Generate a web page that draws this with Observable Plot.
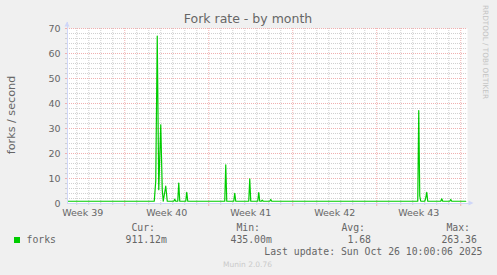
<!DOCTYPE html>
<html><head><meta charset="utf-8">
<script src="https://cdn.jsdelivr.net/npm/d3@7"></script>
<script src="https://cdn.jsdelivr.net/npm/@observablehq/plot@0.6"></script>
<style>
html,body{margin:0;padding:0;background:#f0f0f0;}
</style></head><body><div id="chart"></div>
<script>
// ---- data ----
const title = "Fork rate - by month";
const yLabel = "forks / second";
const seriesName = "forks";
const times = [
  "2025-09-23T05:30","2025-09-30T11:00","2025-09-30T14:00","2025-09-30T17:00","2025-09-30T20:00",
  "2025-10-01T00:00","2025-10-01T03:00","2025-10-01T05:00","2025-10-01T10:00","2025-10-01T13:00",
  "2025-10-02T02:00","2025-10-02T04:00","2025-10-02T06:00","2025-10-02T10:00","2025-10-02T12:00","2025-10-02T14:00",
  "2025-10-03T02:00","2025-10-03T04:00","2025-10-03T06:00",
  "2025-10-06T08:00","2025-10-06T10:00","2025-10-06T12:00",
  "2025-10-07T02:00","2025-10-07T04:00","2025-10-07T06:00",
  "2025-10-08T08:00","2025-10-08T10:00","2025-10-08T12:00",
  "2025-10-09T02:00","2025-10-09T04:00","2025-10-09T06:00","2025-10-09T09:00","2025-10-09T11:00","2025-10-09T13:00",
  "2025-10-10T02:00","2025-10-10T04:00","2025-10-10T06:00",
  "2025-10-22T10:00","2025-10-22T12:00","2025-10-22T14:00","2025-10-22T16:00",
  "2025-10-23T00:00","2025-10-23T02:00","2025-10-23T04:00","2025-10-23T06:00",
  "2025-10-24T08:00","2025-10-24T10:00","2025-10-24T12:00",
  "2025-10-25T02:00","2025-10-25T04:00","2025-10-25T06:00",
  "2025-10-26T10:00"
];
const values = [
  0.9, 0.9, 9, 67, 5.5,
  31.5, 5.5, 0.9, 7, 0.9,
  0.9, 1.7, 0.9, 0.9, 8.2, 0.9,
  0.9, 4.5, 0.9,
  0.9, 15.5, 0.9,
  0.9, 4.1, 0.9,
  0.9, 9.9, 0.9,
  0.9, 4.4, 0.9, 0.9, 1.3, 0.9,
  0.9, 1.6, 0.9,
  0.9, 37.2, 3, 0.9,
  0.9, 2.2, 4.5, 0.9,
  0.9, 1.9, 0.9,
  0.9, 1.6, 0.9,
  0.9
];
const yTicks = [0, 10, 20, 30, 40, 50, 60, 70];
const weekLabels = ["Week 39", "Week 40", "Week 41", "Week 42", "Week 43"];
const weekMids = ["2025-09-24T12:00", "2025-10-01T12:00", "2025-10-08T12:00", "2025-10-15T12:00", "2025-10-22T12:00"];
const legendHeads = ["Cur:", "Min:", "Avg:", "Max:"];
const legendValues = ["911.12m", "435.00m", "1.68", "263.36"];
const lastUpdate = "Last update: Sun Oct 26 10:00:06 2025";
const footer = "Munin 2.0.76";
const watermark = "RRDTOOL / TOBI OETIKER";
const xStart = "2025-09-23T05:30", xEnd = "2025-10-26T13:30";

// ---- chart ----
const parse = s => new Date(s);
const data = times.map((t, i) => ({t: parse(t), v: values[i]}));
const x0 = parse(xStart), x1 = parse(xEnd);
const days = d3.timeDay.range(d3.timeDay.ceil(x0), x1);
const weeks = d3.timeWeek.range(d3.timeWeek.ceil(x0), x1);
const weekSet = new Set(weeks.map(d => +d));
const minorDays = days.filter(d => !weekSet.has(+d));
const minorY = d3.range(2, 70, 2).filter(v => v % 10 !== 0);
const majorY = d3.range(10, 71, 10);
const labelMap = new Map(weekMids.map((s, i) => [+parse(s), weekLabels[i]]));
const hour = 3600e3;

const GRID = "#d0d0d0", MGRID = "#f0b0b0", AXIS = "#cfd6f8", TXT = "#666";

const chart = Plot.plot({
  width: 497, height: 275,
  marginLeft: 67, marginRight: 30, marginTop: 28, marginBottom: 72,
  style: {background: "#f0f0f0", fontFamily: "'DejaVu Sans', sans-serif", fontSize: "9.5px", color: TXT},
  x: {type: "time", domain: [x0, x1], label: null},
  y: {domain: [0, 70], label: null},
  marks: [
    Plot.frame({fill: "white", stroke: "none"}),
    Plot.ruleX(minorDays, {stroke: GRID, strokeDasharray: "1,1"}),
    Plot.ruleY(minorY, {stroke: GRID, strokeDasharray: "1,1"}),
    Plot.ruleX(weeks, {stroke: MGRID, strokeDasharray: "1,1"}),
    Plot.ruleY(majorY, {stroke: MGRID, strokeDasharray: "1,1"}),
    // small ticks outside the axes
    Plot.ruleX(minorDays, {y1: 0, y2: -0.8, stroke: GRID}),
    Plot.ruleX(weeks, {y1: 0, y2: -1.2, stroke: MGRID}),
    Plot.ruleY(minorY, {x1: x0, x2: new Date(+x0 - 4 * hour), stroke: GRID}),
    Plot.ruleY(majorY, {x1: x0, x2: new Date(+x0 - 4 * hour), stroke: MGRID}),
    Plot.axisX({ticks: weekMids.map(parse), tickFormat: d => labelMap.get(+d), tickSize: 0, tickPadding: 6, label: null, fill: TXT}),
    Plot.axisY({ticks: yTicks, tickSize: 0, tickPadding: 7, label: null, fill: TXT}),
    Plot.lineY(data, {x: "t", y: "v", stroke: "#00cc00", strokeWidth: 1.2}),
    // axis lines
    Plot.ruleY([0], {x1: x0, x2: new Date(+x1 + 6 * hour), stroke: AXIS}),
    Plot.ruleX([x0], {y1: 0, y2: 72.4, stroke: AXIS})
  ]
});
document.getElementById("chart").appendChild(chart);

const svg = d3.select(chart);
const sx = chart.scale("x"), sy = chart.scale("y");
const ax = sx.apply(x0), ay = sy.apply(0), axr = sx.apply(x1), ayt = sy.apply(70);
// arrows
svg.append("path").attr("fill", AXIS)
  .attr("d", `M${ax - 2.5},${ayt - 1.5}L${ax + 2.5},${ayt - 1.5}L${ax},${ayt - 6.5}Z`);
svg.append("path").attr("fill", AXIS)
  .attr("d", `M${axr + 1.5},${ay - 2.5}L${axr + 1.5},${ay + 2.5}L${axr + 6.5},${ay}Z`);

const addText = (x, y, str, opts = {}) => {
  const t = svg.append("text").attr("x", x).attr("y", y)
    .attr("font-family", opts.family || "DejaVu Sans")
    .attr("font-size", opts.size || 9.5)
    .attr("fill", opts.fill || TXT)
    .attr("text-anchor", opts.anchor || "start")
    .text(str);
  if (opts.transform) t.attr("transform", opts.transform);
  return t;
};
// title
addText(248, 23, title, {size: 12.5, anchor: "middle"});
// y label
addText(0, 0, yLabel, {size: 11.2, anchor: "middle", transform: "translate(15,115) rotate(-90)"});
// watermark
addText(0, 0, watermark, {size: 7.3, fill: "#c4c4c4", transform: "translate(483,5) rotate(90)"});
// legend
svg.append("rect").attr("x", 14).attr("y", 237).attr("width", 6).attr("height", 6).attr("fill", "#00cc00");
const M = {family: "DejaVu Sans Mono", size: 9.8};
addText(26.5, 243, seriesName, M);
const headX = [155, 260, 365, 470], valX = [166.8, 271.8, 371, 476.8];
legendHeads.forEach((h, i) => addText(headX[i], 231, h, {...M, anchor: "end"}));
legendValues.forEach((v, i) => addText(valX[i], 243, v, {...M, anchor: "end"}));
addText(482.5, 254.5, lastUpdate, {...M, anchor: "end"});
// footer
addText(247.5, 267, footer, {size: 7.5, fill: "#cacaca", anchor: "middle"});
</script></body></html>
